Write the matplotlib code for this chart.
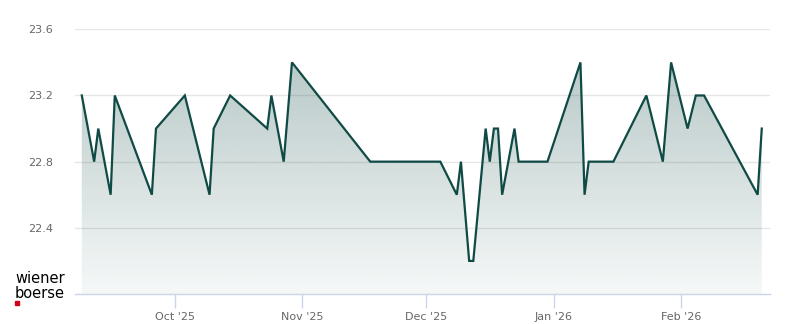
import datetime as dt

import numpy as np
import matplotlib
matplotlib.use("Agg")
import matplotlib.pyplot as plt
import matplotlib.dates as mdates
from matplotlib.patches import Polygon

# trading days with a price (thinly traded stock)
dates = [
    "2025-09-08", "2025-09-11", "2025-09-12", "2025-09-15", "2025-09-16",
    "2025-09-25", "2025-09-26", "2025-10-03", "2025-10-09", "2025-10-10",
    "2025-10-14", "2025-10-23", "2025-10-24", "2025-10-27", "2025-10-29",
    "2025-11-17", "2025-12-04", "2025-12-08", "2025-12-09", "2025-12-11",
    "2025-12-12", "2025-12-15", "2025-12-16", "2025-12-17", "2025-12-18",
    "2025-12-19", "2025-12-22", "2025-12-23", "2025-12-30", "2026-01-07",
    "2026-01-08", "2026-01-09", "2026-01-15", "2026-01-23", "2026-01-27",
    "2026-01-29", "2026-02-02", "2026-02-04", "2026-02-06", "2026-02-19",
    "2026-02-20",
]
prices = [
    23.2, 22.8, 23.0, 22.6, 23.2,
    22.6, 23.0, 23.2, 22.6, 23.0,
    23.2, 23.0, 23.2, 22.8, 23.4,
    22.8, 22.8, 22.6, 22.8, 22.2,
    22.2, 23.0, 22.8, 23.0, 23.0,
    22.6, 23.0, 22.8, 22.8, 23.4,
    22.6, 22.8, 22.8, 23.2, 22.8,
    23.4, 23.0, 23.2, 23.2, 22.6,
    23.0,
]
month_ticks = ["2025-10-01", "2025-11-01", "2025-12-01", "2026-01-01", "2026-02-01"]
month_labels = ["Oct '25", "Nov '25", "Dec '25", "Jan '26", "Feb '26"]
y_ticks = [22.4, 22.8, 23.2, 23.6]

line_col = "#0f4a44"
grid_col = "#e6e6e6"
axis_col = "#ccd6eb"
label_col = "#666666"

x = np.array([mdates.date2num(dt.datetime.fromisoformat(d)) for d in dates]) + 0.5
y = np.array(prices)
xt = [mdates.date2num(dt.datetime.fromisoformat(d)) for d in month_ticks]

fig = plt.figure(figsize=(8, 3.24), dpi=100)
ax = fig.add_axes([75 / 800, 30 / 324, 695 / 800, 264.7 / 324])

oct1 = mdates.date2num(dt.datetime(2025, 10, 1))
x0, x1 = oct1 - 24.15, oct1 + 144.5
y0, y1 = 22.0, 23.6
ax.set_xlim(x0, x1)
ax.set_ylim(y0, y1)

# gradient area under the line
rgb = np.array(matplotlib.colors.to_rgb(line_col))
alpha = np.linspace(0.33, 0.04, 256)
img = np.zeros((256, 1, 4))
img[:, 0, :3] = rgb
img[:, 0, 3] = alpha
im = ax.imshow(img, extent=[x0, x1, y0, y1], aspect="auto", origin="upper", zorder=1)
poly = Polygon(np.column_stack([np.r_[x[0], x, x[-1]], np.r_[y0, y, y0]]),
               closed=True, facecolor="none", edgecolor="none")
ax.add_patch(poly)
im.set_clip_path(poly)

ax.plot(x, y, color=line_col, lw=1.6, zorder=3, solid_joinstyle="miter")

ax.set_yticks(y_ticks)
ax.set_yticklabels([f"{v:.1f}" for v in y_ticks])
ax.grid(axis="y", color=grid_col, lw=1)
ax.set_axisbelow(True)
ax.tick_params(axis="y", length=0, pad=16, labelsize=8, labelcolor=label_col)

ax.set_xticks(xt)
ax.set_xticklabels(month_labels)
ax.tick_params(axis="x", length=10, width=1, color=axis_col, pad=3,
               labelsize=8, labelcolor=label_col)

for s in ["top", "right", "left"]:
    ax.spines[s].set_visible(False)
ax.spines["bottom"].set_color(axis_col)
ax.spines["bottom"].set_linewidth(1)

# logo
fig.text(15 / 800, 1 - 283 / 324, "wiener", fontsize=10.5, color="black", va="baseline")
fig.text(15 / 800, 1 - 298 / 324, "boerse", fontsize=10.5, color="black", va="baseline")
fig.patches.append(plt.Rectangle((15 / 800, 1 - 305 / 324), 4 / 800, 4 / 324,
                                 transform=fig.transFigure, color="#d0021b"))

fig.savefig("out.png", dpi=100)
